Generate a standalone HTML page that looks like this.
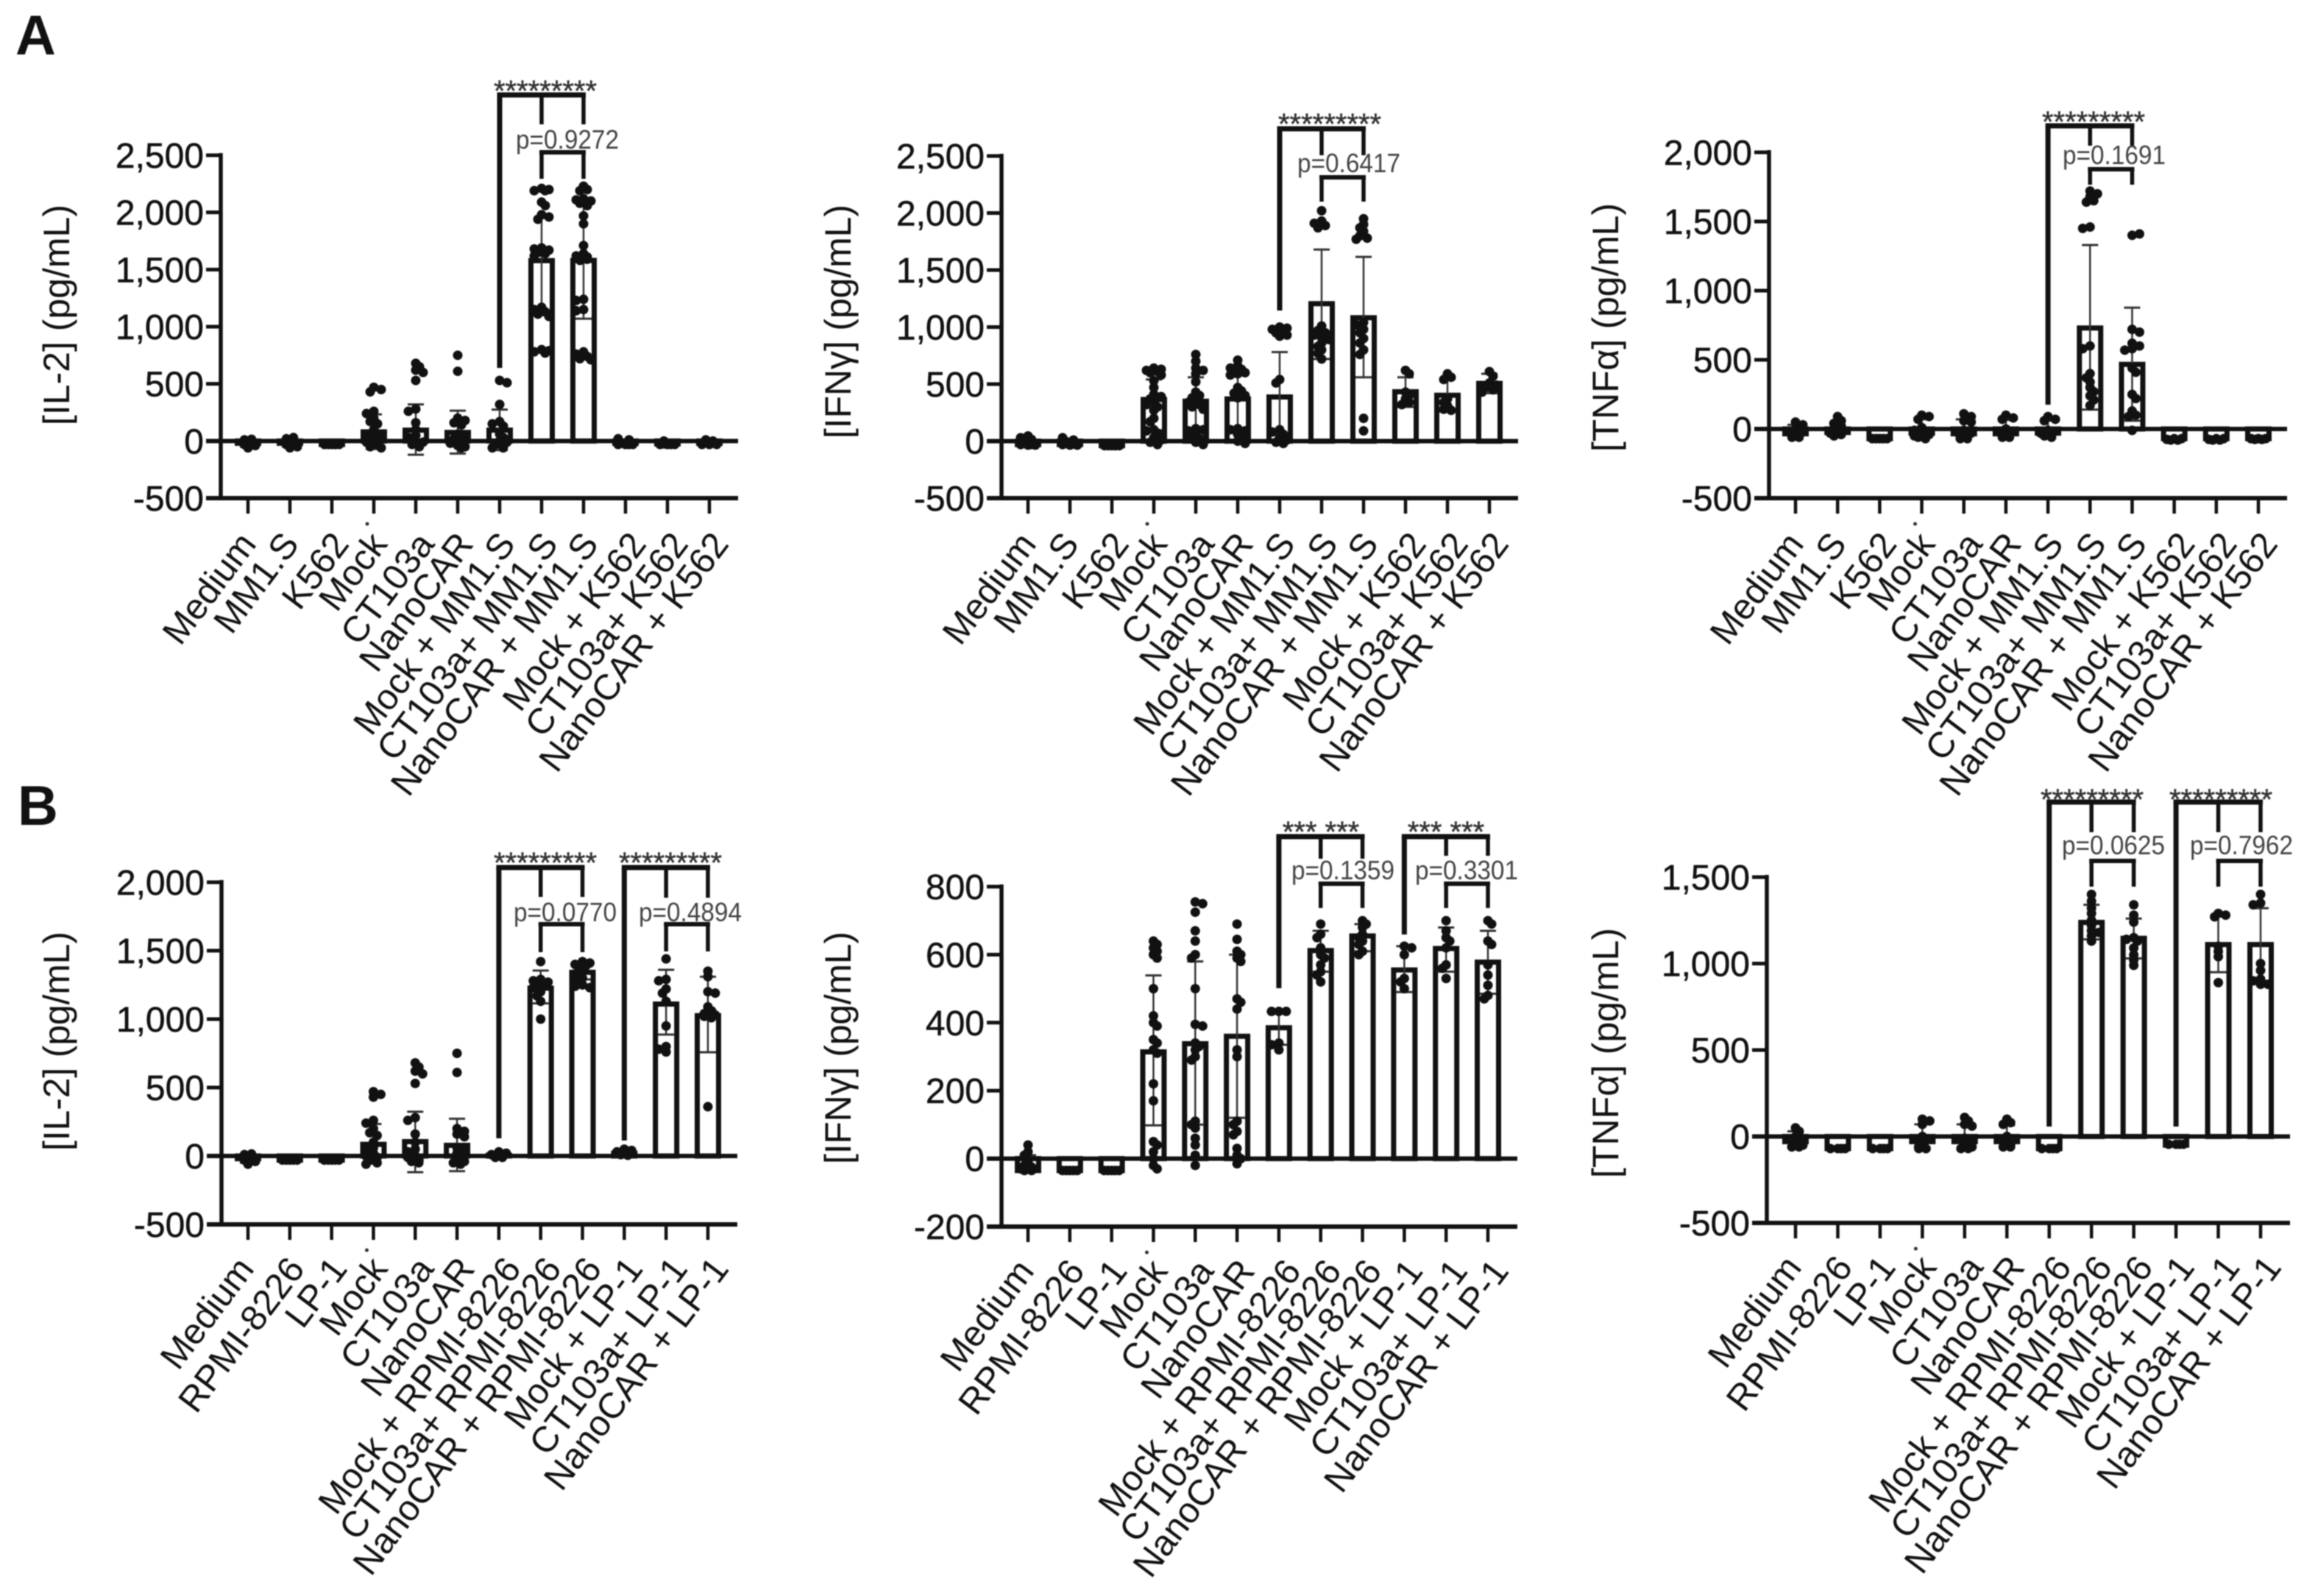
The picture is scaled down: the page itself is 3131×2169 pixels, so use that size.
<!DOCTYPE html>
<html lang="en">
<head>
<meta charset="utf-8">
<title>Cytokine secretion bar charts</title>
<style>
html,body{margin:0;padding:0;background:#fff;}
#figure{display:block;width:3131px;height:2169px;filter:blur(0.9px);font-family:"Liberation Sans",sans-serif;}
</style>
</head>
<body>
<svg id="figure" xmlns="http://www.w3.org/2000/svg" width="3131" height="2169" viewBox="0 0 3131 2169">
  <rect x="0" y="0" width="3131" height="2169" fill="#fff"/>
  <text x="21" y="74" font-size="76" font-weight="700" fill="#111">A</text>
  <text x="24" y="1121" font-size="76" font-weight="700" fill="#111">B</text>
</svg>
<script>
// ---------- Categories ----------
const categoriesA = ['Medium','MM1.S','K562','Mock','CT103a','NanoCAR','Mock + MM1.S','CT103a+ MM1.S','NanoCAR + MM1.S','Mock + K562','CT103a+ K562','NanoCAR + K562'];
const categoriesB = ['Medium','RPMI-8226','LP-1','Mock','CT103a','NanoCAR','Mock + RPMI-8226','CT103a+ RPMI-8226','NanoCAR + RPMI-8226','Mock + LP-1','CT103a+ LP-1','NanoCAR + LP-1'];

// ---------- Tick labels ----------
const ticksIl2A = [-500,0,500,1000,1500,2000,2500];
const ticksIfnA = [-500,0,500,1000,1500,2000,2500];
const ticksTnfA = [-500,0,500,1000,1500,2000];
const ticksIl2B = [-500,0,500,1000,1500,2000];
const ticksIfnB = [-200,0,200,400,600,800];
const ticksTnfB = [-500,0,500,1000,1500];

// ---------- Panel A, IL-2 ----------
const meanIl2A = [-20,-20,-30,80,95,75,95,1578,1580,-20,-25,-20];
const lowIl2A = [-50,-50,-35,-70,-120,-110,-80,1100,1070,-35,-35,-35];
const highIl2A = [10,15,-25,233,320,265,275,1950,2090,5,-10,5];
const pointsIl2A = [
 [-60,-40,-30,-30,-20,-20,-10,0,0,10,10,15],
 [-60,-50,-30,-30,-20,-10,0,10,20,30],
 [-30,-30,-30,-30,-30,-30],
 [470,450,430,260,240,200,170,150,100,60,40,20,0,-10,-30,-50,-60],
 [680,650,620,600,530,280,260,160,100,50,30,0,-10,-30,-40,-50],
 [750,610,200,180,160,140,60,40,20,0,-20,-40,-50,-60],
 [530,510,320,170,150,130,60,30,0,-10,-30,-50,-60,-60],
 [2210,2200,2190,2190,2090,2060,1980,1960,1940,1690,1680,1670,1650,1640,1620,1170,1150,1130,1110,1090,800,790,780,770],
 [2230,2200,2190,2120,2110,2100,2080,2060,1970,1900,1710,1640,1620,1610,1600,1590,1580,1240,1230,1150,1140,780,760,740,720,710],
 [-30,-30,-30,-30,-20,10,20],
 [-30,-30,-30,-30,-25,-20,0],
 [-30,-30,-30,-20,-10,0,10]
];

// ---------- Panel A, IFN-gamma ----------
const meanIfnA = [-30,-30,-40,365,350,370,387,1205,1082,433,402,506];
const lowIfnA = [-40,-40,-45,95,50,70,0,720,560,300,260,420];
const highIfnA = [20,15,-35,540,560,590,781,1680,1615,560,545,590];
const pointsIfnA = [
 [-35,-35,-30,-30,-20,-10,0,15,30,45],
 [-35,-35,-30,-25,-20,-15,-5,10,30],
 [-40,-40,-40,-40,-40,-40],
 [640,630,620,610,600,580,530,470,410,390,370,340,320,300,270,200,170,100,90,70,30,10,-10,-30],
 [760,700,640,620,590,520,430,400,380,350,340,320,300,280,110,100,90,60,40,20,-10,-30],
 [710,660,640,630,620,600,590,580,470,440,420,400,380,110,100,90,60,30,0,-20],
 [1000,990,980,970,950,930,920,540,510,100,80,60,30,10,-10,-20],
 [2020,1930,1910,1890,1870,1010,970,950,930,910,890,860,830,800,770,720],
 [1950,1900,1870,1840,1800,1780,1770,1040,1020,980,950,900,860,800,760,200,90],
 [620,590,430,400,370,340,320],
 [590,560,540,370,340,310,280,270],
 [610,570,510,490,470,450,430]
];

// ---------- Panel A, TNF-alpha ----------
const meanTnfA = [-35,-25,-70,-30,-35,-35,-30,730,467,-70,-70,-70];
const lowTnfA = [-60,-50,-75,-70,-70,-65,-60,140,60,-75,-75,-75];
const highTnfA = [30,50,-65,70,70,65,60,1330,877,-65,-65,-65];
const pointsTnfA = [
 [50,30,0,-10,-20,-30,-40,-50,-60,-60],
 [90,60,40,20,0,-20,-30,-40,-50],
 [-70,-70,-70,-70,-70],
 [100,90,70,10,-10,-30,-40,-50,-60,-70],
 [110,90,60,50,-10,-30,-40,-50,-60,-70,-70],
 [100,80,70,0,-30,-40,-50,-60,-60],
 [90,70,60,-10,-30,-40,-50,-60],
 [1720,1700,1680,1650,1640,1460,1450,600,580,400,370,340,300,270,240,210,170],
 [1400,1410,720,700,620,600,580,570,440,410,250,220,130,100,90,-10],
 [-70,-70,-75,-80,-80,-80],
 [-70,-70,-75,-80,-80],
 [-70,-70,-70,-75,-75]
];

// ---------- Panel B, IL-2 ----------
const meanIl2B = [-20,-30,-30,85,105,78,5,1226,1342,20,1110,1025];
const lowIl2B = [-50,-35,-35,-55,-118,-111,-15,1115,1290,5,887,758];
const highIl2B = [10,-25,-25,234,323,272,25,1355,1400,40,1360,1310];
const pointsIl2B = [
 [-60,-40,-30,-30,-20,-20,-10,0,0,10,10,15],
 [-30,-30,-30,-30,-30,-25],
 [-30,-30,-30,-30,-30,-25],
 [470,450,430,260,240,200,170,150,100,60,40,20,0,-10,-30,-50,-60],
 [680,650,620,600,530,280,260,160,100,50,30,0,-10,-30,-40,-50],
 [750,610,200,180,160,140,60,40,20,0,-20,-40,-50,-60],
 [30,20,10,10,0,-5,-10,-10],
 [1420,1290,1280,1270,1260,1250,1230,1200,1170,1130,1000],
 [1420,1410,1400,1390,1380,1350,1330,1300,1280,1250,1240,1230],
 [50,40,30,25,20,15,10,5],
 [1440,1290,1280,1220,1190,1130,950,800,780,760],
 [1350,1310,1200,1190,1090,1060,1040,1030,1020,1010,360]
];

// ---------- Panel B, IFN-gamma ----------
const meanIfnB = [-35,-35,-35,314,338,360,385,612,655,555,618,578];
const lowIfnB = [-40,-38,-38,98,100,120,335,550,610,490,550,485];
const highIfnB = [10,-32,-32,539,580,600,432,670,690,625,680,670];
const pointsIfnB = [
 [40,20,10,-10,-20,-25,-30,-30,-35,-35],
 [-35,-35,-35,-35,-35],
 [-35,-35,-35,-35,-35],
 [640,630,620,610,600,590,500,420,400,390,350,340,320,310,220,170,50,40,20,0,-20,-30],
 [755,750,725,670,640,600,590,500,395,390,340,330,320,300,290,110,100,90,60,40,10,-20],
 [690,645,610,600,590,580,470,460,440,320,300,110,100,80,70,30,10,0,-15],
 [433,433,433,340,335,320],
 [690,660,650,620,600,590,570,550,540,520],
 [700,690,680,660,650,640,630,610,600],
 [625,620,600,530,520,500],
 [700,670,650,640,620,570,560,530],
 [700,690,640,630,570,540,510,480,470]
];

// ---------- Panel B, TNF-alpha ----------
const meanTnfB = [-30,-70,-70,-30,-30,-30,-70,1238,1146,-50,1110,1110];
const lowTnfB = [-60,-75,-75,-70,-70,-65,-75,1140,1030,-55,950,900];
const highTnfB = [30,-65,-65,70,70,65,-65,1340,1260,-45,1280,1320];
const pointsTnfB = [
 [50,30,0,-20,-40,-50,-60,-60],
 [-70,-70,-70,-70],
 [-70,-70,-70,-70],
 [100,90,70,0,-20,-40,-60,-70,-70,-70],
 [110,90,70,60,-10,-30,-50,-60,-70,-70],
 [100,80,70,0,-30,-50,-60,-60],
 [-70,-70,-70,-70],
 [1400,1360,1320,1290,1250,1220,1190,1180,1160,1130],
 [1340,1280,1240,1150,1140,1130,1090,1050,1020,990],
 [-45,-45,-45,-45],
 [1290,1280,1270,1100,1070,1040,890],
 [1400,1350,1340,1000,960,910,900,880,880]
];

// ---------- Chart layouts (pixel frames, not data) ----------
const labelNudgeRowA = [0,1,12,7,14,10,10,11,9,17,17,15];
const labelNudgeRowB = [-3,9,10,8,14,13,19,17,15,14,18,17];
const panels = [
 {id:'il2-a', title:'[IL-2] (pg/mL)', cats:categoriesA, nudge:labelNudgeRowA, ticks:ticksIl2A, mean:meanIl2A, low:lowIl2A, high:highIl2A, pts:pointsIl2A,
  axisX:300, x0:337, x1:964, right:1003, yTop:211, yBot:677, labelGap:42, titleX:94, titleY:428, titleLen:300,
  groups:[{a:6,b:7,c:8,top:129,leftEnd:500,legEnd:169,stars:'*********',starY:114,starX:741,pY:207,pLeg:243,pText:'p=0.9272',pTextX:771,pBase:202}]},
 {id:'ifn-a', title:'[IFN\u03b3] (pg/mL)', cats:categoriesA, nudge:labelNudgeRowA, ticks:ticksIfnA, mean:meanIfnA, low:lowIfnA, high:highIfnA, pts:pointsIfnA,
  axisX:1361, x0:1397, x1:2024, right:2063, yTop:212, yBot:677, labelGap:42, titleX:1156, titleY:437, titleLen:318,
  groups:[{a:6,b:7,c:8,top:175,leftEnd:422,legEnd:211,stars:'*********',starY:159,starX:1807,pY:241,pLeg:274,pText:'p=0.6417',pTextX:1833,pBase:234}]},
 {id:'tnf-a', title:'[TNF\u03b1] (pg/mL)', cats:categoriesA, nudge:labelNudgeRowA, ticks:ticksTnfA, mean:meanTnfA, low:lowTnfA, high:highTnfA, pts:pointsTnfA,
  axisX:2404, x0:2440, x1:3069, right:3108, yTop:207, yBot:677, labelGap:42, titleX:2199, titleY:445, titleLen:338,
  groups:[{a:6,b:7,c:8,top:171,leftEnd:550,legEnd:198,stars:'*********',starY:156,starX:2845,pY:230,pLeg:251,pText:'p=0.1691',pTextX:2873,pBase:223}]},
 {id:'il2-b', title:'[IL-2] (pg/mL)', cats:categoriesB, nudge:labelNudgeRowB, ticks:ticksIl2B, mean:meanIl2B, low:lowIl2B, high:highIl2B, pts:pointsIl2B,
  axisX:301, x0:337, x1:962, right:1002, yTop:1199, yBot:1664, labelGap:40, titleX:94, titleY:1415, titleLen:298,
  groups:[{a:6,b:7,c:8,top:1179,leftEnd:1547,legEnd:1219,stars:'*********',starY:1163,starX:741,pY:1256,pLeg:1294,pText:'p=0.0770',pTextX:768,pBase:1252},
          {a:9,b:10,c:11,top:1179,leftEnd:1550,legEnd:1220,stars:'*********',starY:1163,starX:911,pY:1256,pLeg:1293,pText:'p=0.4894',pTextX:938,pBase:1252}]},
 {id:'ifn-b', title:'[IFN\u03b3] (pg/mL)', cats:categoriesB, nudge:labelNudgeRowB, ticks:ticksIfnB, mean:meanIfnB, low:lowIfnB, high:highIfnB, pts:pointsIfnB,
  axisX:1361, x0:1397, x1:2022, right:2062, yTop:1205, yBot:1667, labelGap:40, titleX:1156, titleY:1424, titleLen:316,
  groups:[{a:6,b:7,c:8,top:1137,leftEnd:1343,legEnd:1167,stars:'*** ***',starY:1121,starX:1795,pY:1201,pLeg:1234,pText:'p=0.1359',pTextX:1825,pBase:1195},
          {a:9,b:10,c:11,top:1137,leftEnd:1270,legEnd:1163,stars:'*** ***',starY:1121,starX:1965,pY:1201,pLeg:1234,pText:'p=0.3301',pTextX:1993,pBase:1195}]},
 {id:'tnf-b', title:'[TNF\u03b1] (pg/mL)', cats:categoriesB, nudge:labelNudgeRowB, ticks:ticksTnfB, mean:meanTnfB, low:lowTnfB, high:highTnfB, pts:pointsTnfB,
  axisX:2401, x0:2440, x1:3072, right:3112, yTop:1192, yBot:1662, labelGap:40, titleX:2199, titleY:1431, titleLen:340,
  groups:[{a:6,b:7,c:8,top:1090,leftEnd:1531,legEnd:1131,stars:'*********',starY:1077,starX:2843,pY:1170,pLeg:1205,pText:'p=0.0625',pTextX:2872,pBase:1161},
          {a:9,b:10,c:11,top:1090,leftEnd:1531,legEnd:1131,stars:'*********',starY:1077,starX:3018,pY:1170,pLeg:1205,pText:'p=0.7962',pTextX:3046,pBase:1161}]}
];

const NS = 'http://www.w3.org/2000/svg';
const figure = document.getElementById('figure');

function make(tag, parent, attrs) {
  const el = document.createElementNS(NS, tag);
  for (const k in attrs) el.setAttribute(k, attrs[k]);
  parent.appendChild(el);
  return el;
}
function lineEl(parent, x1, y1, x2, y2, width, color) {
  return make('line', parent, {x1:x1, y1:y1, x2:x2, y2:y2, stroke:color || '#111', 'stroke-width':width});
}
function swarmOffsets(values, yOf, step, minDist, maxOff) {
  const placed = [];
  return values.map(function (v) {
    const py = yOf(v);
    let chosen = 0, found = false;
    for (let k = 0; k * step <= maxOff && !found; k++) {
      const tries = k === 0 ? [0] : (placed.length % 2 ? [k * step, -k * step] : [-k * step, k * step]);
      for (const off of tries) {
        const clear = placed.every(function (p) {
          const dx = p.x - off, dy = p.y - py;
          return dx * dx + dy * dy >= minDist * minDist;
        });
        if (clear) { chosen = off; found = true; break; }
      }
    }
    if (!found) chosen = placed.length % 2 ? maxOff * 0.4 : -maxOff * 0.4;
    placed.push({x: chosen, y: py});
    return chosen;
  });
}
function fmt(v) {
  return String(v).replace(/\B(?=(\d{3})+(?!\d))/g, ',');
}

panels.forEach(function (p) {
  const domMin = p.ticks[0], domMax = p.ticks[p.ticks.length - 1];
  const yOf = function (v) { return p.yBot - (v - domMin) / (domMax - domMin) * (p.yBot - p.yTop); };
  const xOf = function (i) { return p.x0 + i * (p.x1 - p.x0) / (p.cats.length - 1); };
  const y0 = yOf(0);

  const g = make('g', figure, {});
  
  

  // Y axis title
  const title = make('text', g, {transform:'translate(' + p.titleX + ',' + p.titleY + ') rotate(-90)', 'text-anchor':'middle', 'font-size':50, fill:'#111', textLength:p.titleLen, lengthAdjust:'spacing'});
  title.textContent = p.title;
  
  

  // Bars and error bars
  p.mean.forEach(function (m, i) {
    const cx = xOf(i), yM = yOf(m);
    const bar = make('rect', g, {x:cx - 14.5, y:Math.min(yM, y0), width:29, height:Math.abs(y0 - yM), fill:'#fff', stroke:'#111', 'stroke-width':7});
    
    

    const err = make('g', g, {});
    
    
    lineEl(err, cx, yOf(p.low[i]), cx, yOf(p.high[i]), 2.5, '#333');
    lineEl(err, cx - 11, yOf(p.high[i]), cx + 11, yOf(p.high[i]), 3, '#333');
    lineEl(err, cx - 11, yOf(p.low[i]), cx + 11, yOf(p.low[i]), 3, '#333');
  });

  // Y axis and ticks
  const yAxis = lineEl(g, p.axisX, p.yTop - 3, p.axisX, p.yBot + 3, 5.5);
  
  
  p.ticks.forEach(function (t) {
    const ty = yOf(t);
    const tick = lineEl(g, p.axisX - 20, ty, p.axisX, ty, 5);
    
    
    const lab = make('text', g, {x:p.axisX - 23, y:ty + 17, 'text-anchor':'end', 'font-size':48, fill:'#111', stroke:'#111', 'stroke-width':0.5});
    lab.textContent = fmt(t);
    
    
  });

  // X axis, zero line, ticks, labels
  const xAxis = lineEl(g, p.axisX - 20, p.yBot, p.right, p.yBot, 6);
  
  
  const zero = lineEl(g, p.axisX - 20, y0, p.right, y0, 6);
  
  
  p.cats.forEach(function (c, i) {
    const cx = xOf(i);
    const tick = lineEl(g, cx, p.yBot, cx, p.yBot + 21, 4.5);
    
    
    const ax = cx + 13 + p.nudge[i], ay = p.yBot + 21 + p.labelGap;
    const lab = make('text', g, {transform:'translate(' + ax + ',' + ay + ') rotate(-53)', 'text-anchor':'end', 'font-size':49, fill:'#111'});
    lab.textContent = c;
    
    
  });
  const speck = make('circle', g, {cx:xOf(3) - 9, cy:p.yBot + 35, r:2.5, fill:'#333'});
  
  

  // Data points
  p.pts.forEach(function (vals, i) {
    const cx = xOf(i);
    const offs = swarmOffsets(vals, yOf, 5, 6.5, 12);
    vals.forEach(function (v, j) {
      const dot = make('circle', g, {cx:cx + offs[j], cy:yOf(v), r:6.5, fill:'#111'});
      
      
    });
  });

  // Significance brackets
  p.groups.forEach(function (b) {
    const xa = xOf(b.a), xb = xOf(b.b), xc = xOf(b.c);
    const br = make('g', g, {});
    
    
    lineEl(br, xa - 3.5, b.top, xc + 3, b.top, 7);
    lineEl(br, xa, b.top, xa, b.leftEnd, 7);
    lineEl(br, xb, b.top, xb, b.legEnd, 5.5);
    lineEl(br, xc, b.top, xc, b.legEnd, 5.5);
    const stars = make('text', g, {x:b.starX, y:b.starY + 23, 'text-anchor':'middle', 'font-size':40, fill:'#333', stroke:'#333', 'stroke-width':0.5});
    stars.textContent = b.stars;
    
    

    const pb = make('g', g, {});
    
    
    lineEl(pb, xb - 3, b.pY, xc + 3, b.pY, 6);
    lineEl(pb, xb, b.pY, xb, b.pLeg, 5.5);
    lineEl(pb, xc, b.pY, xc, b.pLeg, 5.5);
    const ptxt = make('text', g, {x:b.pTextX, y:b.pBase, 'text-anchor':'middle', 'font-size':36, fill:'#444', textLength:140, lengthAdjust:'spacingAndGlyphs'});
    ptxt.textContent = b.pText;
    
    
  });
});
</script>
</body>
</html>
